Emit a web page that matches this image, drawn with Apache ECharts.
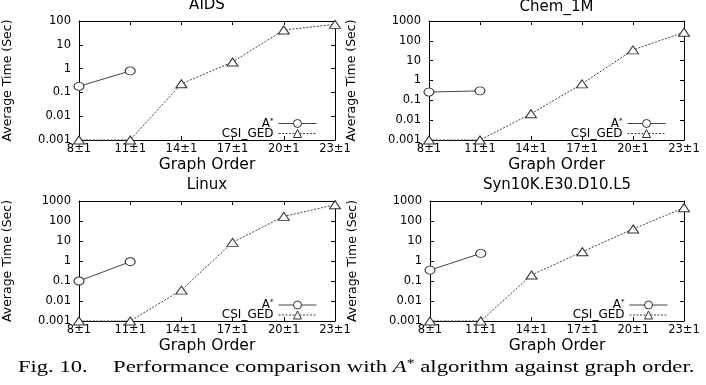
<!DOCTYPE html>
<html>
<head>
<meta charset="utf-8">
<script src="https://cdn.jsdelivr.net/npm/echarts@6/dist/echarts.min.js"></script>
<style>html,body{margin:0;padding:0;background:#fff;}#c{width:706px;height:385px;}</style>
</head>
<body>
<div id="c"></div>
<script>
const categories = ['8±1', '11±1', '14±1', '17±1', '20±1', '23±1'];
const panelTitles = ['AIDS', 'Chem_1M', 'Linux', 'Syn10K.E30.D10.L5'];
const yMaxes = [100, 1000, 1000, 1000];
const yMin = 0.001;

const aidsAstar  = [0.18, 0.8, null, null, null, null];
const aidsCsi    = [0.001, 0.001, 0.23, 1.9, 42, 72];
const chemAstar  = [0.26, 0.3, null, null, null, null];
const chemCsi    = [0.001, 0.001, 0.021, 0.68, 35, 270];
const linuxAstar = [0.1, 0.92, null, null, null, null];
const linuxCsi   = [0.001, 0.001, 0.035, 8.5, 170, 650];
const synAstar   = [0.35, 2.4, null, null, null, null];
const synCsi     = [0.001, 0.001, 0.2, 2.9, 40, 460];

const astarData = [aidsAstar, chemAstar, linuxAstar, synAstar];
const csiData = [aidsCsi, chemCsi, linuxCsi, synCsi];

const grids = [
  {left: 79, top: 21, width: 256, height: 119},
  {left: 429, top: 21, width: 255, height: 119},
  {left: 79, top: 201, width: 256, height: 120},
  {left: 430, top: 201, width: 254, height: 120}
];
const legendPos = [
  {right: 389, top: 117.5},
  {right: 40, top: 117.5},
  {right: 389, top: 299},
  {right: 38, top: 299}
];
const titleY = [-2, 0, 178, 178];
const yNameGaps = [65, 71, 65, 71];

const SANS = 'DejaVu Sans';
const SERIF = 'Liberation Serif';
const axisLineStyle = {show: true, onZero: false, lineStyle: {color: '#000', width: 1}};
const tickStyle = {show: true, inside: true, length: 4, lineStyle: {color: '#000', width: 1}};

const xAxis = [], yAxis = [], series = [], legend = [], graphic = [];
grids.forEach((g, i) => {
  xAxis.push({
    gridIndex: i, type: 'category', data: categories, boundaryGap: false, position: 'bottom',
    axisLine: axisLineStyle, axisTick: tickStyle,
    axisLabel: {color: '#000', fontFamily: SANS, fontSize: 11.5, margin: 3},
    splitLine: {show: false},
    name: 'Graph Order', nameLocation: 'middle', nameGap: 17,
    nameTextStyle: {color: '#000', fontFamily: SANS, fontSize: 15.5}
  });
  xAxis.push({
    gridIndex: i, type: 'category', data: categories, boundaryGap: false, position: 'top',
    axisLine: axisLineStyle, axisTick: tickStyle, axisLabel: {show: false}, splitLine: {show: false}
  });
  yAxis.push({
    gridIndex: i, type: 'log', logBase: 10, min: yMin, max: yMaxes[i], interval: 1, position: 'left',
    axisLine: axisLineStyle, axisTick: tickStyle,
    axisLabel: {color: '#000', fontFamily: SANS, fontSize: 11.5, margin: 8,
      formatter: v => String(Number(Number(v).toPrecision(4)))},
    splitLine: {show: false}, minorTick: {show: false},
    name: 'Average Time (Sec)', nameLocation: 'middle', nameGap: yNameGaps[i], nameRotate: 90,
    nameTextStyle: {color: '#000', fontFamily: SANS, fontSize: 12.5}
  });
  yAxis.push({
    gridIndex: i, type: 'log', logBase: 10, min: yMin, max: yMaxes[i], interval: 1, position: 'right',
    axisLine: axisLineStyle, axisTick: tickStyle, axisLabel: {show: false}, splitLine: {show: false}
  });
  series.push({
    name: 'A*', type: 'line', xAxisIndex: 2 * i, yAxisIndex: 2 * i, data: astarData[i],
    symbol: 'circle', symbolSize: [10, 8], clip: false, connectNulls: false,
    lineStyle: {color: '#444', width: 1, type: 'solid'},
    itemStyle: {color: '#fff', borderColor: '#333', borderWidth: 1}, z: 3
  });
  series.push({
    name: 'CSI_GED', type: 'line', xAxisIndex: 2 * i, yAxisIndex: 2 * i, data: csiData[i],
    symbol: 'triangle', symbolSize: [11, 8], clip: false,
    lineStyle: {color: '#444', width: 1, type: [2, 1.5]},
    itemStyle: {color: '#fff', borderColor: '#333', borderWidth: 1}, z: 3
  });
  legend.push({
    orient: 'vertical', align: 'right', right: legendPos[i].right, top: legendPos[i].top,
    padding: 0, itemWidth: 38, itemHeight: 10, itemGap: -2, selectedMode: false,
    data: ['A*', 'CSI_GED'],
    itemStyle: {borderWidth: 1},
    lineStyle: {width: 1},
    formatter: n => n === 'A*' ? '{a|A}{s|*}' : n,
    textStyle: {color: '#000', fontFamily: SANS, fontSize: 12,
      rich: {
        a: {fontFamily: SANS, fontSize: 12, color: '#000'},
        s: {fontFamily: SANS, fontSize: 7, lineHeight: 7, color: '#000', verticalAlign: 'top'}
      }}
  });
  graphic.push({
    type: 'text', x: g.left + g.width / 2, y: titleY[i],
    style: {text: panelTitles[i], fill: '#000', font: '15px "DejaVu Sans"', align: 'center', verticalAlign: 'top'}
  });
});

graphic.push({
  type: 'text', x: 18, y: 358, scaleX: 1.29,
  style: {text: 'Fig. 10.', fill: '#000', font: '17.5px "Liberation Serif"', verticalAlign: 'top'}
});
graphic.push({
  type: 'text', x: 113, y: 358, scaleX: 1.3,
  style: {
    text: '{r|Performance comparison with }{i|A}{s|*}{r| algorithm against graph order.}',
    fill: '#000', font: '17.5px "Liberation Serif"', verticalAlign: 'top',
    rich: {
      r: {fontFamily: SERIF, fontSize: 17.5, fill: '#000'},
      i: {fontFamily: SERIF, fontSize: 17.5, fontStyle: 'italic', fill: '#000'},
      s: {fontFamily: SERIF, fontSize: 12, fill: '#000', verticalAlign: 'top'}
    }
  }
});

const chart = echarts.init(document.getElementById('c'), null, {renderer: 'canvas'});
chart.setOption({
  animation: false,
  backgroundColor: '#fff',
  grid: grids.map(g => Object.assign({containLabel: false}, g)),
  xAxis, yAxis, series, legend, graphic
});
</script>
</body>
</html>
